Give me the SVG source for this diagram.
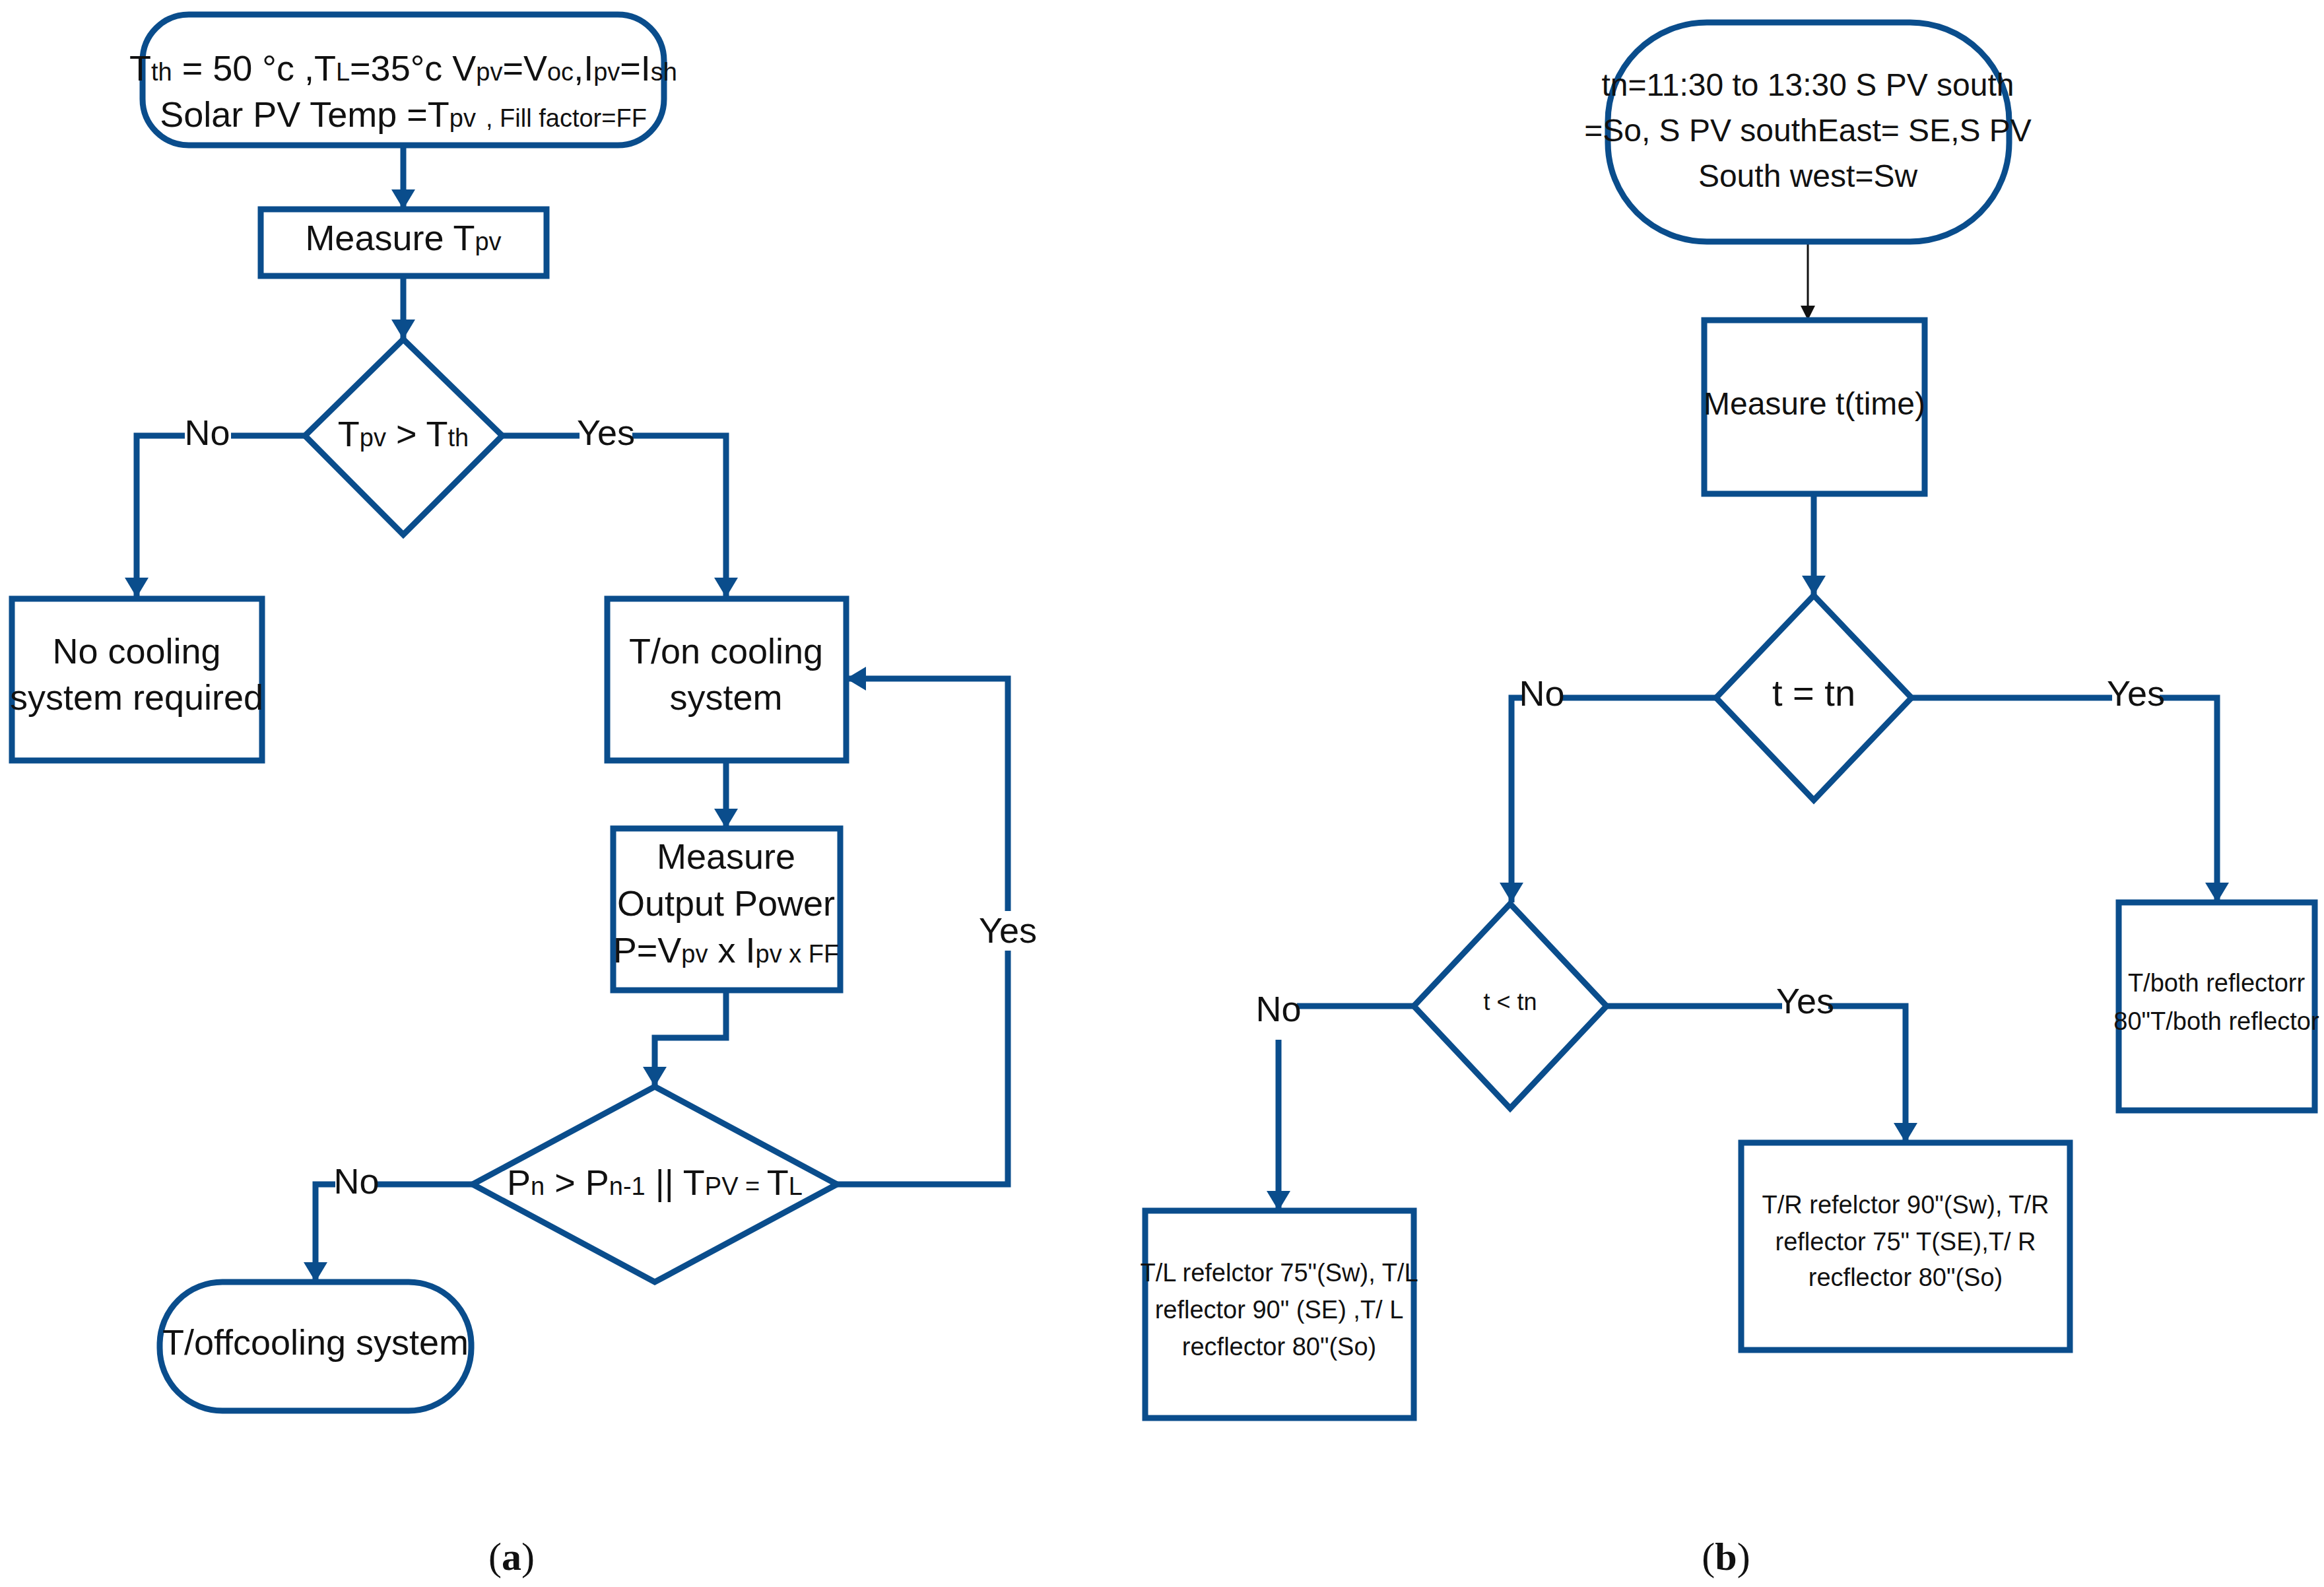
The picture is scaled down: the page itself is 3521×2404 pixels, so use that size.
<svg xmlns="http://www.w3.org/2000/svg" width="3521" height="2404" viewBox="0 0 3521 2404">
<style>
.s{fill:#fff;stroke:#0a4d8c;stroke-width:9}
.c{fill:none;stroke:#0a4d8c;stroke-width:9}
.t{font-family:"Liberation Sans Narrow","Liberation Sans",Arial,sans-serif;fill:#111;text-anchor:middle}
.L{font-size:54px}
.M{font-size:48px}
.S{font-size:38px}
.sub{font-size:38px}
.lab{font-family:"Liberation Serif",serif;font-size:60px;text-anchor:middle;fill:#111}
</style>
<defs>
<marker id="ah" markerUnits="userSpaceOnUse" markerWidth="30" markerHeight="36" refX="30" refY="18" orient="auto"><path d="M0,0 L30,18 L0,36 Z" fill="#0a4d8c"/></marker>
<marker id="ahs" markerUnits="userSpaceOnUse" markerWidth="22" markerHeight="22" refX="22" refY="11" orient="auto"><path d="M0,0 L22,11 L0,22 Z" fill="#111"/></marker>
</defs>
<rect width="3521" height="2404" fill="#fff"/>
<g id="connectors">
<path class="c" d="M611,220 V317" marker-end="url(#ah)"/>
<path class="c" d="M611,418 V514" marker-end="url(#ah)"/>
<path class="c" d="M462,660 H207 V905" marker-end="url(#ah)"/>
<path class="c" d="M761,660 H1100 V905" marker-end="url(#ah)"/>
<path class="c" d="M1100,1152 V1255" marker-end="url(#ah)"/>
<path class="c" d="M1100,1500 V1572 H992 V1646" marker-end="url(#ah)"/>
<path class="c" d="M1268,1794 H1527 V1028 H1282" marker-end="url(#ah)"/>
<path class="c" d="M716,1794 H478 V1942" marker-end="url(#ah)"/>
<path d="M2739,366 V485" stroke="#111" stroke-width="3" fill="none" marker-end="url(#ahs)"/>
<path class="c" d="M2748,748 V902" marker-end="url(#ah)"/>
<path class="c" d="M2600,1057 H2290 V1367" marker-end="url(#ah)"/>
<path class="c" d="M2896,1057 H3359 V1367" marker-end="url(#ah)"/>
<path class="c" d="M2142,1524 H1965 M1937,1575 V1834" marker-end="url(#ah)"/>
<path class="c" d="M2434,1524 H2887 V1731" marker-end="url(#ah)"/>
<g class="t L">
<rect x="280" y="628" width="70" height="60" fill="#fff"/><text x="314" y="674">No</text>
<rect x="878" y="628" width="80" height="60" fill="#fff"/><text x="918" y="674">Yes</text>
<rect x="1490" y="1380" width="74" height="60" fill="#fff"/><text x="1527" y="1428">Yes</text>
<rect x="508" y="1764" width="62" height="56" fill="#fff"/><text x="540" y="1808">No</text>
<rect x="2306" y="1025" width="60" height="56" fill="#fff"/><text x="2336" y="1069">No</text>
<rect x="3200" y="1025" width="72" height="56" fill="#fff"/><text x="3236" y="1069">Yes</text>
<text x="1937" y="1547">No</text>
<rect x="2700" y="1495" width="70" height="56" fill="#fff"/><text x="2735" y="1535">Yes</text>
</g>
</g>
<g id="start-a"><rect class="s" x="216" y="22" width="790" height="198" rx="70"/>
<text class="t L" x="611" y="122">T<tspan class="sub">th</tspan> = 50 °c ,T<tspan class="sub">L</tspan>=35°c V<tspan class="sub">pv</tspan>=V<tspan class="sub">oc</tspan>,I<tspan class="sub">pv</tspan>=I<tspan class="sub">sh</tspan></text>
<text class="t L" x="611" y="192">Solar PV Temp =T<tspan class="sub">pv</tspan> <tspan class="sub">, Fill factor=FF</tspan></text></g>
<g id="measure-tpv"><rect class="s" x="395" y="317" width="433" height="101"/><text class="t L" x="611" y="379">Measure T<tspan class="sub">pv</tspan></text></g>
<g id="dec1"><polygon class="s" points="611,514 761,660 611,810 462,660"/><text class="t L" x="611" y="676">T<tspan class="sub">pv</tspan> &gt; T<tspan class="sub">th</tspan></text></g>
<g id="no-cooling"><rect class="s" x="18" y="907" width="379" height="245"/><text class="t L" x="207" y="1005">No cooling</text><text class="t L" x="207" y="1075">system required</text></g>
<g id="ton"><rect class="s" x="920" y="907" width="362" height="245"/><text class="t L" x="1100" y="1005">T/on cooling</text><text class="t L" x="1100" y="1075">system</text></g>
<g id="measure-power"><rect class="s" x="929" y="1255" width="344" height="245"/><text class="t L" x="1100" y="1316">Measure</text><text class="t L" x="1100" y="1387">Output Power</text><text class="t L" x="1100" y="1458">P=V<tspan class="sub">pv</tspan> x I<tspan class="sub">pv</tspan><tspan class="sub"> x FF</tspan></text></g>
<g id="dec2"><polygon class="s" points="992,1646 1268,1794 992,1942 716,1794"/><text class="t L" x="992" y="1810">P<tspan class="sub">n</tspan> &gt; P<tspan class="sub">n-1</tspan> || T<tspan class="sub">PV</tspan><tspan class="sub"> = </tspan>T<tspan class="sub">L</tspan></text></g>
<g id="toff"><rect class="s" x="242" y="1942" width="472" height="195" rx="95"/><text class="t L" x="478" y="2052">T/offcooling system</text></g>
<g id="start-b"><rect class="s" x="2436" y="34" width="608" height="332" rx="150"/>
<text class="t M" x="2739" y="145">tn=11:30 to 13:30  S PV  south</text>
<text class="t M" x="2739" y="214">=So, S PV southEast= SE,S PV</text>
<text class="t M" x="2739" y="283">South west=Sw</text></g>
<g id="measure-t"><rect class="s" x="2582" y="485" width="334" height="263"/><text class="t M" x="2749" y="628">Measure t(time)</text></g>
<g id="dec3"><polygon class="s" points="2748,902 2896,1057 2748,1212 2600,1057"/><text class="t" font-size="56" x="2748" y="1069">t = tn</text></g>
<g id="both"><rect class="s" x="3210" y="1367" width="297" height="315"/><text class="t S" x="3358" y="1502">T/both reflectorr</text><text class="t S" x="3358" y="1560">80"T/both reflector</text></g>
<g id="dec4"><polygon class="s" points="2288,1369 2434,1524 2288,1679 2142,1524"/><text class="t" font-size="36" x="2288" y="1530">t &lt; tn</text></g>
<g id="tl"><rect class="s" x="1735" y="1834" width="407" height="314"/><text class="t S" x="1938" y="1941">T/L refelctor 75"(Sw), T/L</text><text class="t S" x="1938" y="1997">reflector 90" (SE) ,T/ L</text><text class="t S" x="1938" y="2053">recflector 80"(So)</text></g>
<g id="tr"><rect class="s" x="2638" y="1731" width="498" height="314"/><text class="t S" x="2887" y="1838">T/R refelctor 90"(Sw), T/R</text><text class="t S" x="2887" y="1894">reflector 75" T(SE),T/ R</text><text class="t S" x="2887" y="1948">recflector 80"(So)</text></g>
<text class="lab" x="775" y="2378">(<tspan font-weight="bold">a</tspan>)</text>
<text class="lab" x="2615" y="2378">(<tspan font-weight="bold">b</tspan>)</text>
</svg>
